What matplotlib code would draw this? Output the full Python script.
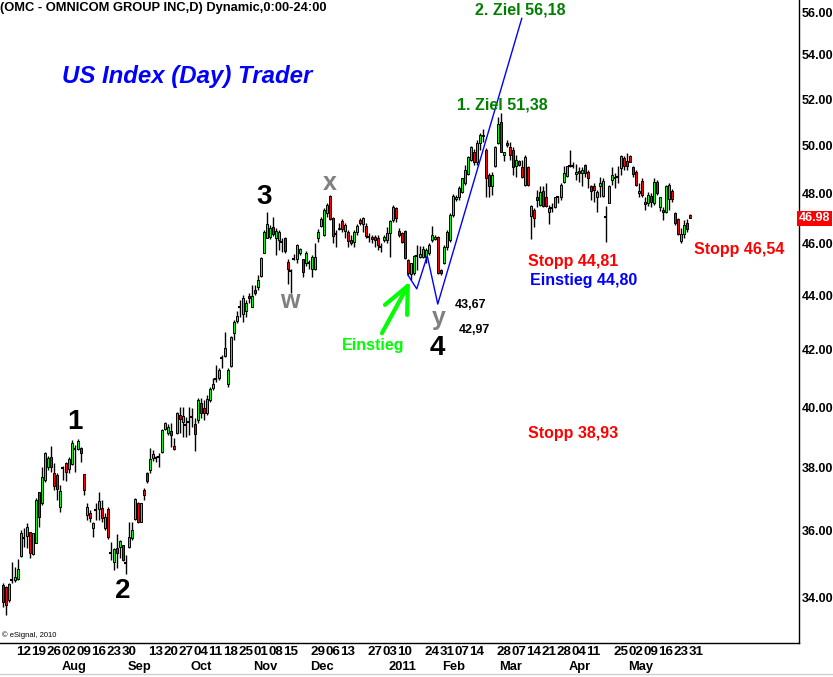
import numpy as np
import matplotlib.pyplot as plt
import pandas as pd
from matplotlib.ticker import FixedLocator, NullLocator, FormatStrFormatter

plt.rcParams['font.family'] = ['Liberation Sans', 'DejaVu Sans']
plt.rcParams['font.weight'] = 'bold'

opens = [34.38, 34.32, 33.94, 34.53, 34.53, 34.56, 35.24, 35.78, 35.84, 35.96,
         35.30, 35.63, 37.21, 36.86, 37.59, 38.02, 38.34, 37.82, 37.75, 36.74,
         37.98, 38.14, 37.95, 38.11, 38.60, 38.60, 38.63, 37.79, 36.49, 36.55,
         36.09, 36.65, 36.68, 36.71, 36.09, 36.68, 35.33, 35.06, 35.48, 35.51,
         35.57, 35.03, 35.51, 35.78, 36.37, 36.86, 36.28, 37.27, 37.82, 37.92,
         38.30, 38.30, 38.34, 38.50, 39.27, 39.13, 39.20, 38.70, 39.13, 39.74,
         39.50, 39.40, 39.50, 39.67, 39.43, 39.57, 40.14, 39.97, 39.81, 40.24,
         40.66, 40.97, 41.00, 41.71, 41.78, 40.80, 41.43, 42.60, 43.05, 43.56,
         43.30, 43.42, 43.97, 43.56, 44.20, 44.31, 44.73, 45.61, 46.21, 46.24,
         46.64, 46.21, 46.13, 46.05, 46.21, 45.26, 44.92, 45.38, 45.38, 45.61,
         45.38, 45.23, 45.23, 45.00, 45.00, 46.21, 46.68, 46.32, 47.20, 47.90,
         47.00, 46.36, 46.56, 46.88, 46.48, 46.44, 46.13, 46.05, 46.44, 46.92,
         46.76, 46.68, 46.24, 46.24, 46.24, 46.21, 45.85, 46.13, 46.13, 46.40,
         46.92, 47.40, 46.48, 46.40, 46.48, 45.34, 44.81, 44.85, 45.50, 45.46,
         45.46, 45.46, 45.61, 46.13, 46.17, 46.24, 44.96, 45.23, 45.85, 46.13,
         47.12, 47.77, 47.82, 48.06, 48.43, 48.80, 49.39, 49.69, 49.27, 50.11,
         50.37, 49.81, 48.76, 48.31, 49.14, 50.11, 51.01, 49.60, 50.11, 49.94,
         49.81, 49.14, 49.35, 49.06, 48.35, 49.06, 47.08, 47.32, 47.82, 47.53,
         48.10, 47.86, 47.24, 47.40, 47.44, 47.82, 47.82, 48.47, 48.72, 49.14,
         49.10, 48.80, 48.93, 48.84, 49.18, 48.89, 48.27, 48.27, 47.86, 48.27,
         47.90, 47.04, 47.61, 48.55, 48.64, 48.68, 49.02, 49.44, 49.31, 49.56,
         49.06, 48.89, 48.02, 48.51, 47.65, 47.61, 47.90, 47.61, 48.47, 47.44,
         47.32, 47.24, 47.77, 48.10, 47.20, 46.96, 46.09, 46.36, 46.80, 47.12]
highs = [34.44, 34.35, 34.44, 35.06, 34.91, 35.15, 36.03, 36.09, 36.24, 35.96,
         35.93, 37.02, 37.21, 38.02, 38.50, 38.37, 38.70, 38.14, 37.82, 37.43,
         38.05, 38.17, 38.34, 38.90, 38.73, 38.93, 38.67, 37.79, 36.86, 36.65,
         36.28, 36.86, 37.21, 36.96, 36.55, 36.74, 35.66, 35.48, 35.90, 35.72,
         35.57, 35.27, 36.28, 36.28, 37.02, 36.90, 36.86, 37.33, 37.85, 38.63,
         38.57, 38.37, 38.47, 39.27, 39.50, 39.43, 39.47, 38.97, 39.84, 40.01,
         40.01, 39.67, 40.01, 39.97, 39.64, 40.31, 40.31, 40.24, 40.42, 40.69,
         41.00, 41.46, 41.36, 41.82, 42.64, 41.36, 42.49, 43.08, 43.42, 43.82,
         44.01, 43.82, 44.08, 44.39, 44.39, 44.77, 45.46, 46.52, 47.24, 46.72,
         47.04, 46.60, 46.52, 46.21, 46.24, 45.38, 45.00, 45.58, 45.97, 45.81,
         45.38, 45.69, 45.34, 45.54, 46.01, 46.56, 47.04, 47.40, 47.61, 47.94,
         47.04, 46.52, 46.80, 46.96, 46.80, 46.52, 46.32, 46.52, 46.76, 47.00,
         47.04, 46.80, 46.40, 46.32, 46.32, 46.32, 46.01, 46.32, 46.64, 46.92,
         47.53, 47.44, 46.60, 46.44, 46.52, 45.38, 45.23, 45.54, 45.93, 45.89,
         45.89, 45.81, 46.01, 46.68, 46.32, 46.28, 45.00, 45.93, 46.52, 47.20,
         47.98, 47.94, 48.27, 48.64, 49.18, 49.52, 49.98, 49.85, 50.24, 50.54,
         50.71, 49.90, 48.84, 48.89, 49.98, 51.23, 51.38, 49.73, 50.24, 50.15,
         49.94, 49.60, 49.39, 49.39, 49.60, 49.10, 47.53, 47.40, 48.14, 48.27,
         48.27, 48.43, 47.53, 47.61, 47.86, 47.90, 48.43, 49.10, 49.14, 49.81,
         49.27, 49.22, 49.06, 49.06, 49.22, 48.97, 48.35, 48.43, 48.14, 48.68,
         48.60, 47.48, 48.35, 49.06, 48.84, 49.10, 49.60, 49.52, 49.65, 49.60,
         49.10, 48.97, 48.43, 48.60, 47.86, 48.06, 48.02, 48.60, 48.55, 47.86,
         47.44, 48.35, 48.43, 48.18, 47.24, 47.00, 46.60, 46.92, 46.96, 47.16]
lows = [33.74, 33.51, 33.88, 34.44, 34.47, 34.53, 35.21, 35.51, 35.48, 35.18,
        35.27, 35.63, 36.12, 36.80, 37.53, 37.92, 37.85, 37.27, 36.96, 36.59,
        37.59, 37.56, 37.82, 38.08, 37.85, 38.57, 38.17, 37.12, 36.34, 36.28,
        35.81, 36.34, 36.34, 36.28, 36.03, 35.75, 35.12, 34.82, 34.88, 35.18,
        35.09, 34.70, 35.48, 35.72, 36.34, 36.24, 36.28, 36.96, 37.49, 37.82,
        38.21, 38.17, 38.02, 38.47, 39.23, 39.07, 38.67, 38.57, 39.10, 39.13,
        39.00, 39.00, 39.07, 39.33, 38.53, 39.47, 39.64, 39.57, 39.74, 40.17,
        40.59, 40.86, 40.93, 41.36, 41.75, 40.69, 41.39, 42.35, 42.97, 43.19,
        43.01, 43.19, 43.71, 43.56, 44.01, 44.20, 44.69, 45.61, 46.21, 46.17,
        46.28, 45.54, 45.73, 45.65, 45.61, 44.43, 44.08, 45.34, 45.23, 45.54,
        44.69, 45.11, 45.00, 44.69, 44.96, 46.05, 46.64, 46.28, 47.04, 46.92,
        46.01, 45.85, 46.52, 46.44, 46.21, 45.85, 45.93, 45.85, 46.32, 46.72,
        46.44, 46.21, 46.05, 46.01, 45.85, 45.73, 45.65, 46.05, 46.01, 45.46,
        46.84, 46.84, 46.24, 46.01, 45.38, 44.77, 44.58, 44.77, 44.96, 45.42,
        45.42, 45.23, 45.54, 46.05, 46.13, 44.81, 44.77, 45.19, 45.73, 46.05,
        47.04, 47.69, 47.73, 48.02, 48.35, 48.76, 49.31, 49.18, 49.18, 49.81,
        50.15, 47.82, 47.82, 47.94, 49.06, 50.07, 49.69, 49.31, 49.94, 49.39,
        48.76, 48.68, 49.10, 48.64, 48.27, 48.31, 46.17, 46.64, 47.44, 47.48,
        47.44, 47.44, 46.76, 47.24, 47.40, 47.61, 47.73, 48.43, 48.68, 49.06,
        49.02, 48.55, 48.47, 48.27, 48.68, 48.22, 47.73, 47.65, 47.24, 47.86,
        47.86, 46.05, 47.61, 48.35, 48.22, 48.43, 48.76, 48.97, 48.97, 49.27,
        48.68, 48.27, 47.82, 47.86, 47.32, 47.48, 47.44, 47.53, 47.94, 47.28,
        46.92, 47.20, 47.32, 47.65, 46.72, 46.32, 46.01, 46.21, 46.44, 47.00]
closes = [33.88, 33.80, 34.41, 34.53, 34.61, 34.85, 35.93, 35.78, 36.12, 35.33,
          35.93, 36.96, 36.43, 37.69, 38.47, 38.30, 38.02, 37.40, 37.30, 37.24,
          37.98, 37.85, 38.27, 38.80, 38.60, 38.87, 38.47, 37.27, 36.74, 36.40,
          36.24, 36.65, 36.93, 36.40, 36.43, 35.81, 35.33, 35.45, 35.33, 35.69,
          35.12, 35.03, 35.81, 36.03, 36.99, 36.28, 36.86, 37.12, 37.56, 38.27,
          38.44, 38.30, 38.34, 39.23, 39.47, 39.33, 39.07, 38.60, 39.81, 39.60,
          39.71, 39.40, 39.50, 39.67, 39.10, 40.24, 39.81, 39.81, 40.28, 40.62,
          40.80, 40.97, 41.29, 41.71, 42.07, 41.29, 42.46, 43.01, 43.23, 43.56,
          43.90, 43.71, 43.90, 43.97, 44.08, 44.58, 45.42, 46.44, 46.76, 46.60,
          46.36, 46.48, 46.44, 46.05, 45.69, 45.00, 44.92, 45.38, 45.93, 45.77,
          44.88, 45.61, 45.23, 45.46, 45.46, 46.44, 46.96, 47.32, 47.53, 46.96,
          46.28, 46.36, 46.60, 46.56, 46.72, 46.09, 46.01, 46.44, 46.68, 46.80,
          47.00, 46.28, 46.24, 46.17, 46.13, 45.93, 45.85, 46.24, 46.40, 46.88,
          47.44, 47.00, 46.32, 46.05, 45.42, 44.85, 45.23, 45.50, 45.50, 45.58,
          45.77, 45.73, 45.93, 46.32, 46.24, 44.85, 44.85, 45.85, 46.44, 47.12,
          47.90, 47.86, 48.22, 48.60, 48.97, 49.48, 49.94, 49.27, 50.11, 50.45,
          50.45, 48.64, 48.27, 48.76, 49.94, 50.93, 49.73, 49.69, 50.02, 49.60,
          49.06, 49.39, 49.18, 48.68, 49.48, 48.35, 47.48, 47.00, 47.73, 48.06,
          47.48, 47.48, 47.40, 47.40, 47.82, 47.82, 48.35, 48.84, 49.10, 49.14,
          49.10, 48.89, 48.84, 48.97, 48.84, 48.64, 48.10, 48.14, 48.06, 48.43,
          48.51, 47.04, 48.27, 48.76, 48.64, 48.68, 49.52, 49.10, 49.10, 49.27,
          48.80, 48.35, 48.10, 47.94, 47.57, 47.94, 47.65, 48.47, 48.02, 47.82,
          47.24, 48.27, 48.35, 47.77, 46.80, 46.36, 46.36, 46.72, 46.56, 46.98]

holidays = ['2010-07-05', '2010-09-06', '2010-11-25', '2010-12-24',
            '2011-01-17', '2011-02-21', '2011-04-22', '2011-05-30']
dates = pd.bdate_range('2010-07-02', '2011-05-31')
dates = dates[~dates.isin(pd.to_datetime(holidays))]

# beschriftete Wochen (eSignal laesst einige aus)
day_ticks = ['2010-07-12', '2010-07-19', '2010-07-26', '2010-08-02', '2010-08-09',
             '2010-08-16', '2010-08-23', '2010-08-30', '2010-09-13', '2010-09-20',
             '2010-09-27', '2010-10-04', '2010-10-11', '2010-10-18', '2010-10-25',
             '2010-11-01', '2010-11-08', '2010-11-15', '2010-11-29', '2010-12-06',
             '2010-12-13', '2010-12-27', '2011-01-03', '2011-01-10', '2011-01-24',
             '2011-01-31', '2011-02-07', '2011-02-14', '2011-02-28', '2011-03-07',
             '2011-03-14', '2011-03-21', '2011-03-28', '2011-04-04', '2011-04-11',
             '2011-04-25', '2011-05-02', '2011-05-09', '2011-05-16', '2011-05-23',
             '2011-05-31']
month_ticks = ['2010-08-02', '2010-09-01', '2010-10-01', '2010-11-01', '2010-11-29',
               '2011-01-05', '2011-02-01', '2011-03-01', '2011-04-01', '2011-05-02']
month_names = ['Aug', 'Sep', 'Oct', 'Nov', 'Dec', '2011', 'Feb', 'Mar', 'Apr', 'May']
price_ticks = [34, 36, 38, 40, 42, 44, 46, 48, 50, 52, 54, 56]

# Elliott-Wellen Zickzack (blau) und Marken
wave_x = [135, 138, 141.5, 145, 173]
wave_y = [44.77, 44.24, 45.50, 43.67, 55.7]

o = np.array(opens)
h = np.array(highs)
l = np.array(lows)
c = np.array(closes)
x = np.arange(len(c))

fig = plt.figure(figsize=(8.33, 6.77), dpi=100)
ax = fig.add_axes([0, 1 - 643 / 677, 799 / 833, 643 / 677])

# Kerzen
up = c > o
dn = c < o
dj = c == o
ax.vlines(x, l, h, color='black', lw=1.0, zorder=1)
ax.bar(x[up], (c - o)[up], bottom=o[up], width=0.8, color='#00ff00',
       edgecolor='black', linewidth=0.7, zorder=2)
ax.bar(x[dn], (o - c)[dn], bottom=c[dn], width=0.8, color='#ff0000',
       edgecolor='black', linewidth=0.7, zorder=2)
ax.hlines(c[dj], x[dj] - 0.5, x[dj] + 0.5, color='black', lw=1.5, zorder=2)

ax.set_yscale('log')
ax.set_ylim(32.72, 56.58)
ax.set_xlim(-0.9, 265.4)

ax.yaxis.tick_right()
ax.yaxis.set_major_locator(FixedLocator(price_ticks))
ax.yaxis.set_minor_locator(NullLocator())
ax.yaxis.set_major_formatter(FormatStrFormatter('%.2f'))
ax.tick_params(axis='y', length=0, pad=2, labelsize=9)
ax.set_xticks([])
for s in ['top', 'left']:
    ax.spines[s].set_visible(False)
for s in ['right', 'bottom']:
    ax.spines[s].set_linewidth(1.0)

# letzter Kurs
ax.text(1.0, c[-1], '%.2f' % c[-1], transform=ax.get_yaxis_transform(),
        ha='left', va='center', color='white', fontsize=9,
        bbox=dict(facecolor='#ff0000', edgecolor='none', pad=1.2))

# Zeitachse
xt = ax.get_xaxis_transform()
for d in day_ticks:
    i = dates.get_loc(pd.Timestamp(d))
    ax.text(i - 0.4, -0.014, pd.Timestamp(d).strftime('%d'), transform=xt,
            ha='left', va='center', fontsize=9.6, clip_on=False)
for d, name in zip(month_ticks, month_names):
    i = dates.get_loc(pd.Timestamp(d))
    ax.text(i - 0.4, -0.037, name, transform=xt,
            ha='left', va='center', fontsize=9.3, clip_on=False)

# Wellen
ax.plot(wave_x, wave_y, color='#0000ff', lw=1, zorder=3)
for txt, xi, yi in [('1', 24.1, 39.50), ('2', 40.1, 34.20),
                    ('3', 87.1, 47.86), ('4', 144.8, 42.07)]:
    ax.text(xi, yi, txt, fontsize=20, color='black', ha='center', va='center')
for txt, xi, yi in [('w', 95.8, 43.78), ('x', 109.1, 48.43), ('y', 145.4, 43.16)]:
    ax.text(xi, yi, txt, fontsize=18, color='#808080', ha='center', va='center')

# Einstieg-Pfeil
ax.plot([126.4, 135], [42.6, 44.35], color='#00ff00', lw=3, solid_capstyle='round')
ax.plot([127.4, 135], [43.64, 44.35], color='#00ff00', lw=3, solid_capstyle='round')
ax.plot([134.8, 135], [43.27, 44.35], color='#00ff00', lw=3, solid_capstyle='round')
ax.text(113.1, 42.17, 'Einstieg', color='#00ff00', fontsize=11.5,
        ha='left', va='center')

# Ziele / Stopps
ax.text(172.4, 56.1, '2. Ziel 56,18', color='#008000', fontsize=11.5,
        ha='center', va='center')
ax.text(166.4, 51.73, '1. Ziel 51,38', color='#008000', fontsize=11.5,
        ha='center', va='center')
ax.text(230.4, 45.73, 'Stopp 46,54', color='#ff0000', fontsize=11.5,
        ha='left', va='center')
ax.text(175.1, 45.30, 'Stopp 44,81', color='#ff0000', fontsize=11.5,
        ha='left', va='center')
ax.text(175.8, 44.54, 'Einstieg 44,80', color='#0000ff', fontsize=11.5,
        ha='left', va='center')
ax.text(175.1, 39.10, 'Stopp 38,93', color='#ff0000', fontsize=11.5,
        ha='left', va='center')
ax.text(150.8, 43.64, '43,67', color='black', fontsize=9, ha='left', va='center')
ax.text(152.1, 42.72, '42,97', color='black', fontsize=9, ha='left', va='center')

# Kopfzeile
fig.text(0.0, 1 - 8 / 677, '(OMC - OMNICOM GROUP INC,D) Dynamic,0:00-24:00',
         fontsize=9.3, ha='left', va='center')
fig.text(62 / 833, 1 - 76 / 677, 'US Index (Day) Trader', fontsize=17.3,
         color='#0000ff', style='italic', ha='left', va='center')
fig.text(2 / 833, 1 - 635 / 677, '\u00a9 eSignal, 2010', fontsize=5.5,
         fontweight='normal', ha='left', va='center')
fig.add_artist(plt.Line2D([0, 1], [3 / 677, 3 / 677], transform=fig.transFigure,
                          color='#d0d0d0', lw=1))

fig.savefig('out.png', dpi=100)
